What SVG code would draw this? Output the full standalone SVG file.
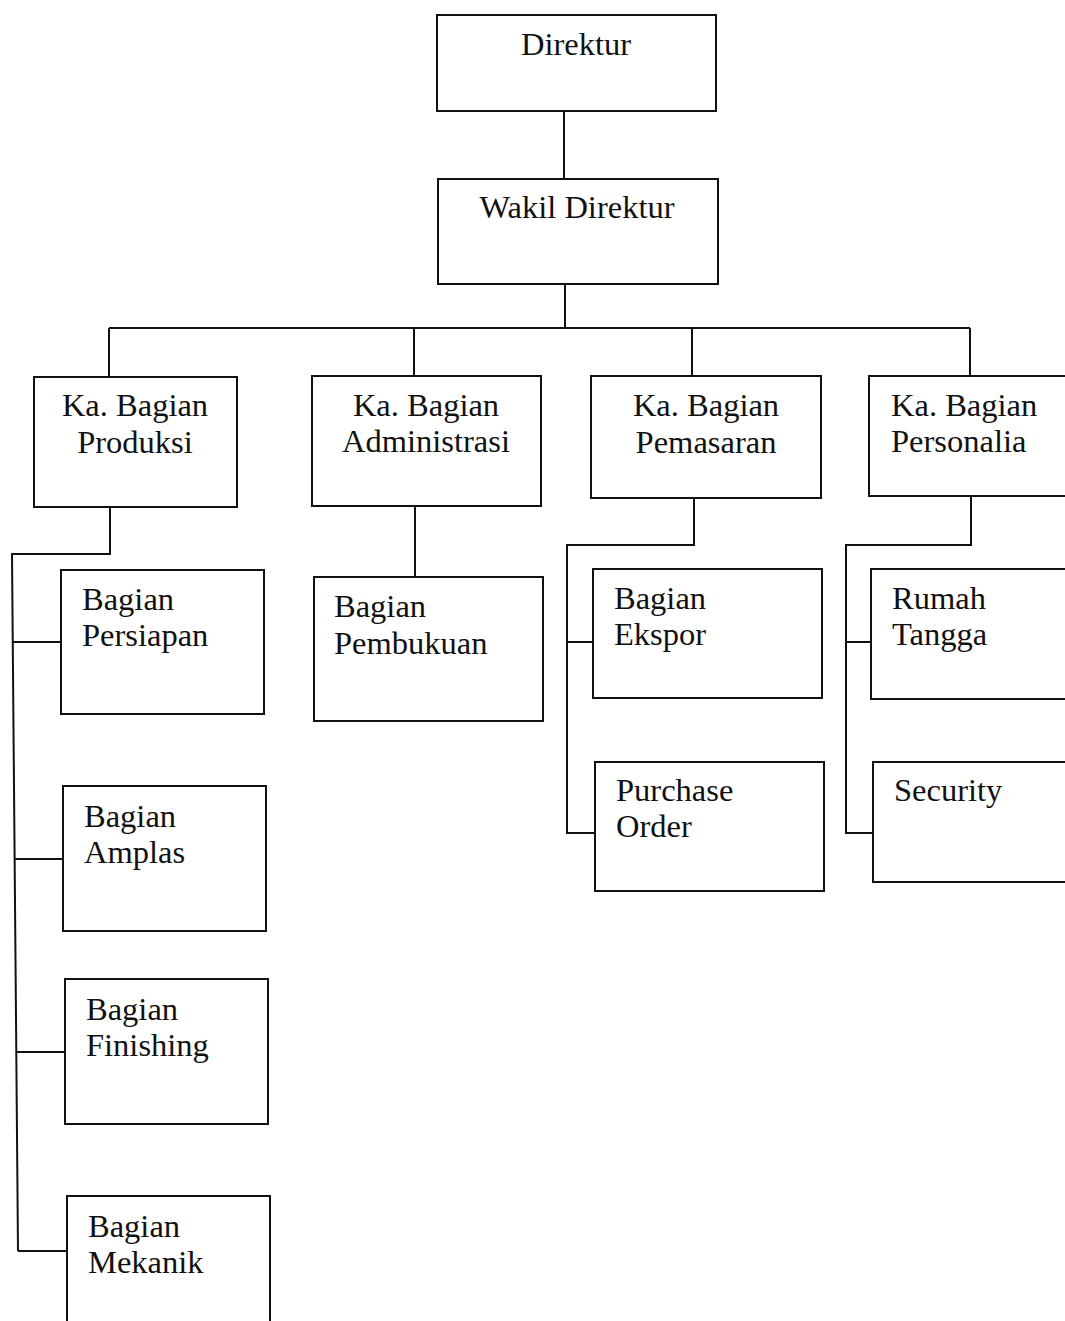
<svg xmlns="http://www.w3.org/2000/svg" width="1065" height="1321" viewBox="0 0 1065 1321">
<style>
.box{fill:#fff;stroke:#111;stroke-width:2}
.c{fill:none;stroke:#111;stroke-width:2}
text{font-family:"Liberation Serif","Times New Roman",serif;font-size:32.5px;fill:#111}
.m{text-anchor:middle}
</style>
<rect width="1065" height="1321" fill="#fff"/>
<g id="connectors">
<path class="c" d="M564 111V179"/>
<path class="c" d="M565 284V328M109 328H970M109 328V377M414 328V376M692 328V376M970 328V376"/>
<path class="c" d="M110 507V554H12L18 1251M13 642H61M15 859H63M16 1052H65M18 1251H67"/>
<path class="c" d="M415 506V577"/>
<path class="c" d="M694 498V545H567V833H595M567 642H593"/>
<path class="c" d="M971 496V545H846V833H873M846 642H871"/>
</g>
<g id="direktur"><rect class="box" x="437" y="15" width="279" height="96"/><text class="m" x="576" y="55">Direktur</text></g>
<g id="wakil"><rect class="box" x="438" y="179" width="280" height="105"/><text class="m" x="577" y="218">Wakil Direktur</text></g>
<g id="produksi"><rect class="box" x="34" y="377" width="203" height="130"/><text class="m" x="135" y="416">Ka. Bagian</text><text class="m" x="135" y="453">Produksi</text></g>
<g id="administrasi"><rect class="box" x="312" y="376" width="229" height="130"/><text class="m" x="426" y="416">Ka. Bagian</text><text class="m" x="426" y="452">Administrasi</text></g>
<g id="pemasaran"><rect class="box" x="591" y="376" width="230" height="122"/><text class="m" x="706" y="416">Ka. Bagian</text><text class="m" x="706" y="453">Pemasaran</text></g>
<g id="personalia"><rect class="box" x="869" y="376" width="210" height="120"/><text x="891" y="416">Ka. Bagian</text><text x="891" y="452">Personalia</text></g>
<g id="persiapan"><rect class="box" x="61" y="570" width="203" height="144"/><text x="82" y="610">Bagian</text><text x="82" y="646">Persiapan</text></g>
<g id="amplas"><rect class="box" x="63" y="786" width="203" height="145"/><text x="84" y="827">Bagian</text><text x="84" y="863">Amplas</text></g>
<g id="finishing"><rect class="box" x="65" y="979" width="203" height="145"/><text x="86" y="1020">Bagian</text><text x="86" y="1056">Finishing</text></g>
<g id="mekanik"><rect class="box" x="67" y="1196" width="203" height="140"/><text x="88" y="1237">Bagian</text><text x="88" y="1273">Mekanik</text></g>
<g id="pembukuan"><rect class="box" x="314" y="577" width="229" height="144"/><text x="334" y="617">Bagian</text><text x="334" y="654">Pembukuan</text></g>
<g id="ekspor"><rect class="box" x="593" y="569" width="229" height="129"/><text x="614" y="609">Bagian</text><text x="614" y="645">Ekspor</text></g>
<g id="purchase"><rect class="box" x="595" y="762" width="229" height="129"/><text x="616" y="801">Purchase</text><text x="616" y="837">Order</text></g>
<g id="rumah"><rect class="box" x="871" y="569" width="210" height="130"/><text x="892" y="609">Rumah</text><text x="892" y="645">Tangga</text></g>
<g id="security"><rect class="box" x="873" y="762" width="210" height="120"/><text x="894" y="801">Security</text></g>
</svg>
